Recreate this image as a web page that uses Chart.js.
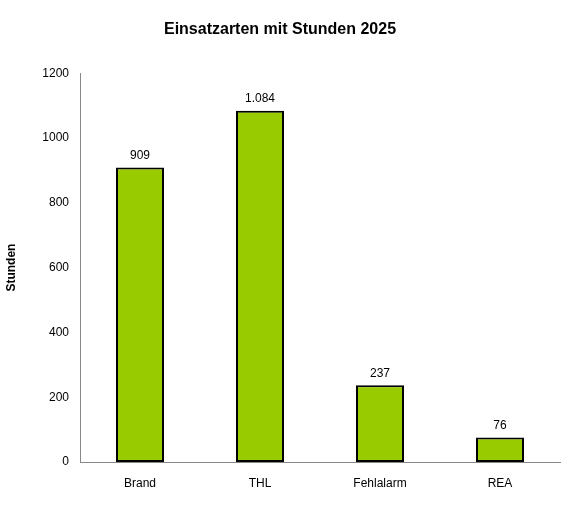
<!DOCTYPE html>
<html><head><meta charset="utf-8">
<script src="https://cdn.jsdelivr.net/npm/chart.js@4"></script>
<style>body{margin:0;background:#fff}#c{display:block}</style>
</head><body>
<div style="width:576px;height:525px"><canvas id="c"></canvas></div>
<script>
const categories = ['Brand', 'THL', 'Fehlalarm', 'REA'];
const hours = [909, 1084, 237, 76];
const yTicks = [0, 200, 400, 600, 800, 1000, 1200];

const valueLabels = {
  id: 'valueLabels',
  afterDatasetsDraw(chart) {
    const ctx = chart.ctx;
    ctx.save();
    ctx.font = '12px "Liberation Sans", Arial, sans-serif';
    ctx.fillStyle = '#000';
    ctx.textAlign = 'center';
    ctx.textBaseline = 'bottom';
    chart.getDatasetMeta(0).data.forEach((bar, i) => {
      ctx.fillText(hours[i].toLocaleString('de-DE'), bar.x, bar.y - 6);
    });
    ctx.restore();
  }
};

Chart.defaults.font.family = '"Liberation Sans", Arial, sans-serif';
Chart.defaults.color = '#000';

new Chart(document.getElementById('c'), {
  type: 'bar',
  data: {
    labels: categories,
    datasets: [{
      data: hours,
      backgroundColor: '#99CC00',
      borderColor: '#000',
      borderWidth: 2,
      borderSkipped: false,
      categoryPercentage: 0.4,
      barPercentage: 1
    }]
  },
  options: {
    responsive: true,
    maintainAspectRatio: false,
    animation: false,
    layout: { padding: { left: 0, right: 16, top: 0, bottom: 0 } },
    plugins: {
      legend: { display: false },
      tooltip: { enabled: false },
      title: {
        display: true,
        text: 'Einsatzarten mit Stunden 2025',
        font: { size: 16, weight: 'bold' },
        color: '#000',
        padding: { top: 20, bottom: 34 }
      }
    },
    scales: {
      x: {
        grid: { display: false, drawTicks: true },
        border: { color: '#888' },
        ticks: { font: { size: 12 }, padding: 6 },
        afterFit(s) { s.height = 63; }
      },
      y: {
        min: 0, max: 1200,
        afterBuildTicks(s) { s.ticks = yTicks.map(v => ({ value: v })); },
        grid: { display: false, drawTicks: true, tickLength: 5 },
        border: { color: '#888' },
        ticks: { font: { size: 12 }, padding: 6, callback: v => v },
        title: { display: true, text: 'Stunden', font: { size: 12, weight: 'bold' } },
        afterFit(s) { s.width = 80; }
      }
    }
  },
  plugins: [valueLabels]
});
</script>
</body></html>
